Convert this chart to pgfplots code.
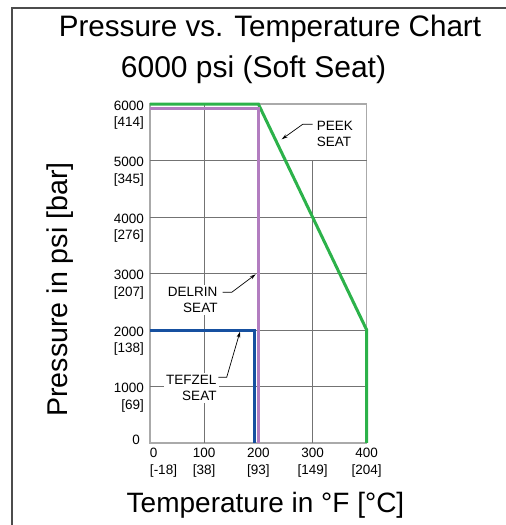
\documentclass[border=0pt]{standalone}
\usepackage{fontspec}
\setmainfont{Liberation Sans}
\usepackage{pgfplots}
\pgfplotsset{compat=1.18}
\usetikzlibrary{arrows.meta}

\definecolor{peek}{RGB}{44,178,74}
\definecolor{delrin}{RGB}{178,125,192}
\definecolor{tefzel}{RGB}{22,80,160}
\definecolor{gridc}{RGB}{115,115,115}
\definecolor{boxc}{RGB}{170,170,170}

\newcommand{\tickfont}{\fontsize{13.5pt}{16.5pt}\selectfont}

\begin{document}
\begin{tikzpicture}[x=1pt,y=1pt]
\begin{axis}[
    at={(0,0)}, anchor=south west,
    scale only axis,
    width=216.7pt, height=339pt,
    xmin=0, xmax=400, ymin=0, ymax=6000,
    clip=false,
    axis line style={draw=boxc, line width=1.1pt},
    major tick length=0pt,
    xtick={0,100,200,300,400},
    ytick={0,1000,2000,3000,4000,5000,6000},
    xticklabels={{\rlap{0}\\\rlap{[-18]}},{100\\{[38]}},{200\\{[93]}},{300\\{[149]}},{400\\{[204]}}},
    yticklabels={{\raisebox{-4.5pt}[0pt][0pt]{0}\hspace{4pt}},{1000\\{[69]}},{2000\\{[138]}},{3000\\{[207]}},{4000\\{[276]}},{5000\\{[345]}},{6000\\{[414]}}},
    xticklabel style={font=\tickfont, align=center, anchor=north, inner sep=0pt, yshift=-5pt},
    yticklabel style={font=\tickfont, align=right, anchor=north east, inner sep=0pt, xshift=-6pt, yshift=3.5pt},
]
% grid drawn by hand (the 300 line stops at 5000)
\draw[gridc, line width=0.9pt] (axis cs:0,1000) -- (axis cs:400,1000);
\draw[gridc, line width=0.9pt] (axis cs:0,2000) -- (axis cs:400,2000);
\draw[gridc, line width=0.9pt] (axis cs:0,3000) -- (axis cs:400,3000);
\draw[gridc, line width=0.9pt] (axis cs:0,4000) -- (axis cs:400,4000);
\draw[gridc, line width=0.9pt] (axis cs:0,5000) -- (axis cs:400,5000);
\draw[gridc, line width=0.9pt] (axis cs:100,0) -- (axis cs:100,6000);
\draw[gridc, line width=0.9pt] (axis cs:200,0) -- (axis cs:200,6000);
\draw[gridc, line width=0.9pt] (axis cs:300,0) -- (axis cs:300,5000);

% PEEK seat
\addplot[peek, line width=3pt, line join=miter] coordinates {
(0,6000) (200,6000) (400,2000) (400,0)
};
% Delrin seat
\addplot[delrin, line width=3pt, line join=miter] coordinates {
(0,5920) (200,5920) (200,0)
};
% Tefzel seat
\addplot[tefzel, line width=3pt, line join=miter] coordinates {
(0,2000) (192.5,2000) (192.5,0)
};
\end{axis}

% annotations
\node[font=\tickfont, align=left, fill=white, inner sep=2pt, anchor=north west] at (164.7,324.3) {PEEK\\SEAT};
\node[font=\tickfont, align=right, fill=white, inner sep=2pt, anchor=north east] at (69.7,158.3) {DELRIN\\SEAT};
\node[font=\tickfont, align=right, fill=white, inner sep=2pt, anchor=north east] at (68.7,70) {TEFZEL\\SEAT};
\draw[line width=0.7pt, -{Stealth[length=6pt,width=3.5pt]}] (162.7,318.7) -- (152.7,318.7) -- (131.7,303.7);
\draw[line width=0.7pt, -{Stealth[length=6pt,width=3.5pt]}] (72.7,150.7) -- (81.7,150.7) -- (105.7,168.7);
\draw[line width=0.7pt, -{Stealth[length=6pt,width=3.5pt]}] (68.3,65.7) -- (76.7,65.7) -- (90,111.3);

% titles and axis labels
\node[font=\fontsize{29.6pt}{36pt}\selectfont, anchor=base] at (120,406) {Pressure vs. Temperature Chart};
\node[font=\fontsize{30pt}{36pt}\selectfont, anchor=base] at (103.5,365.5) {6000 psi (Soft Seat)};
\node[font=\fontsize{28pt}{34pt}\selectfont, anchor=base] at (115.5,-69) {Temperature in °F [°C]};
\node[font=\fontsize{28.6pt}{34pt}\selectfont, anchor=base, rotate=90] at (-82,153.5) {Pressure in psi [bar]};

% frame
\draw[line width=1.3pt, black!70] (-138,-82) -- (-138,435) -- (356,435);

\pgfresetboundingbox
\path[use as bounding box] (-150,-82) rectangle (356,443);
\end{tikzpicture}
\end{document}
